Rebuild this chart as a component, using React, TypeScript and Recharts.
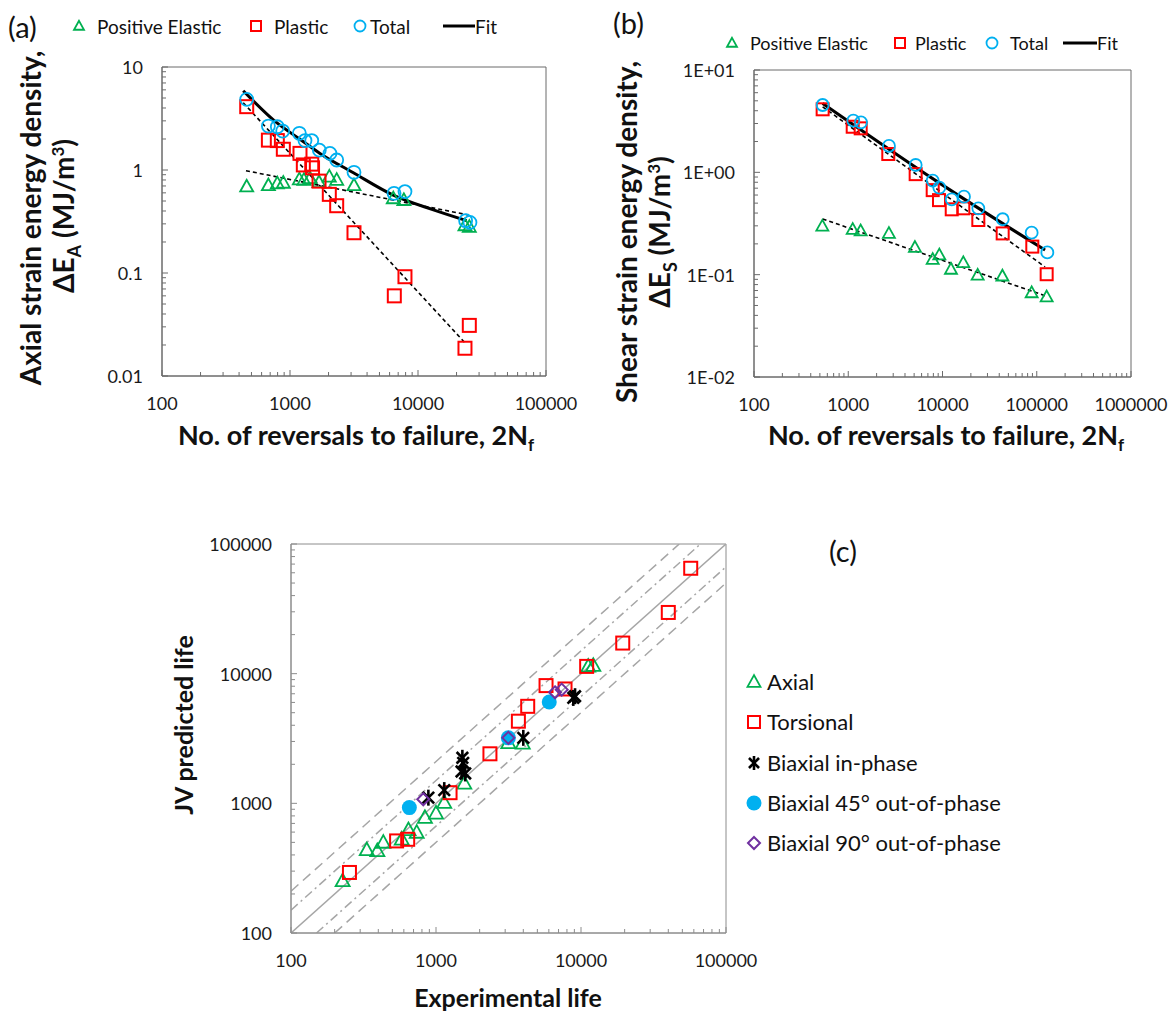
import React from 'react';
import { ComposedChart, Scatter, Line, XAxis, YAxis, ReferenceArea } from 'recharts';

const FONT = 'Lato, "Open Sans", sans-serif';
const GREEN = '#00B050';
const RED = '#FF0000';
const BLUE = '#00B0F0';
const PURPLE = '#7030A0';

// (a) axial: reversals to failure vs strain energy density (MJ/m3)
const aElastic = [[459, 0.69], [678, 0.71], [796, 0.74], [887, 0.75], [1183, 0.81], [1285, 0.8], [1433, 0.83], [1686, 0.76], [2028, 0.86], [2316, 0.8], [3162, 0.71], [6410, 0.53], [7760, 0.51], [23280, 0.29], [25170, 0.28]];
const aPlastic = [[459, 4.12], [678, 1.95], [796, 1.93], [887, 1.59], [1197, 1.45], [1271, 1.12], [1479, 1.14], [1500, 1.05], [1686, 0.78], [2028, 0.58], [2316, 0.45], [3162, 0.246], [6530, 0.06], [7910, 0.092], [23280, 0.0186], [25170, 0.031]];
const aTotal = [[459, 4.85], [678, 2.67], [796, 2.63], [877, 2.39], [1183, 2.27], [1309, 1.93], [1479, 1.93], [1694, 1.56], [2051, 1.45], [2316, 1.25], [3162, 0.95], [6500, 0.594], [7910, 0.617], [23550, 0.322], [25460, 0.31]];
const aFit = [[431, 5.89], [787, 2.88], [1197, 1.99], [1714, 1.45], [3127, 0.94], [6410, 0.57], [13200, 0.41], [24000, 0.322]];
const aElasticFit = [[453, 0.985], [24700, 0.366]];
const aPlasticFit = [[431, 4.5], [23280, 0.021]];

// (b) torsional
const bElastic = [[531, 0.298], [1115, 0.277], [1355, 0.268], [2700, 0.253], [5100, 0.185], [7870, 0.141], [9250, 0.156], [12300, 0.113], [16620, 0.131], [23600, 0.099], [43200, 0.097], [88300, 0.0666], [127400, 0.0608]];
const bPlastic = [[535, 4.13], [1115, 2.79], [1355, 2.69], [2660, 1.51], [5190, 0.96], [7870, 0.67], [9180, 0.535], [12530, 0.435], [16620, 0.445], [23990, 0.342], [43500, 0.253], [89700, 0.188], [127400, 0.101]];
const bTotal = [[535, 4.55], [1132, 3.2], [1365, 3.08], [2704, 1.81], [5190, 1.18], [7870, 0.83], [9250, 0.71], [12530, 0.545], [16900, 0.578], [23990, 0.445], [43500, 0.348], [88300, 0.257], [129500, 0.165]];
const bFit = [[535, 4.72], [9400, 0.78], [122500, 0.174]];
const bElasticFit = [[535, 0.35], [125300, 0.0618]];
const bPlasticFit = [[535, 4.37], [122500, 0.119]];

// (c) experimental vs predicted life
const cAxial = [[227, 252], [333, 437], [394, 430], [433, 499], [580, 528], [646, 624], [736, 596], [839, 776], [1000, 838], [1140, 1012], [1567, 1425], [3155, 2930], [3965, 2900], [11220, 11380], [12160, 11540]];
const cTorsional = [[253, 293], [535, 513], [638, 528], [1250, 1208], [2355, 2410], [3700, 4300], [4290, 5600], [5740, 8090], [7760, 7620], [10940, 11380], [19400, 17220], [40000, 29650], [57100, 65000]];
const cInPhase = [[886, 1106], [1140, 1265], [1520, 2245], [1540, 2050], [1500, 1760], [1590, 1700], [4000, 3200], [8850, 6500], [9100, 6700]];
const cOop45 = [[655, 927], [3155, 3200], [6040, 6050]];
const cOop90 = [[817, 1074], [3155, 3200], [6620, 7180], [7360, 7530]];
const cOneToOne = [[100, 100], [100000, 100000]];
const cUpper2 = [[100, 210], [47600, 100000]];
const cLower2 = [[200, 100], [100000, 50000]];
const cUpper15 = [[100, 150], [66667, 100000]];
const cLower15 = [[150, 100], [100000, 66667]];

const aXTicks = [100, 1000, 10000, 100000];
const aXTickLabels = ['100', '1000', '10000', '100000'];
const aYTicks = [0.01, 0.1, 1, 10];
const aYTickLabels = ['0.01', '0.1', '1', '10'];
const bXTicks = [100, 1000, 10000, 100000, 1000000];
const bXTickLabels = ['100', '1000', '10000', '100000', '1000000'];
const bYTicks = [0.01, 0.1, 1, 10];
const bYTickLabels = ['1E-02', '1E-01', '1E+00', '1E+01'];
const cTicks = [100, 1000, 10000, 100000];
const cTickLabels = ['100', '1000', '10000', '100000'];

const toPts = (arr: number[][]) => arr.map(([x, y]) => ({ x, y }));

const withMinor = (majors: number[]) => {
  const out: number[] = [];
  for (let i = 0; i < majors.length - 1; i++) {
    for (let k = 1; k < 10; k++) out.push(majors[i] * k);
  }
  out.push(majors[majors.length - 1]);
  return out;
};

const labelFor = (v: number, majors: number[], labels: string[]) => {
  const i = majors.findIndex((m) => Math.abs(Math.log10(m) - Math.log10(v)) < 1e-6);
  return i >= 0 ? labels[i] : null;
};

function drawMarker(kind: string, cx: number, cy: number, s: number) {
  const h = s / 2;
  switch (kind) {
    case 'tri':
      return <polygon points={`${cx},${cy - h * 1.05} ${cx - h},${cy + h * 0.75} ${cx + h},${cy + h * 0.75}`} fill="none" stroke={GREEN} strokeWidth={1.8} />;
    case 'sq':
      return <rect x={cx - h} y={cy - h} width={s} height={s} fill="none" stroke={RED} strokeWidth={2} />;
    case 'circ':
      return <circle cx={cx} cy={cy} r={h} fill="none" stroke={BLUE} strokeWidth={1.8} />;
    case 'dot':
      return <circle cx={cx} cy={cy} r={h} fill={BLUE} />;
    case 'dia':
      return <polygon points={`${cx},${cy - h} ${cx + h},${cy} ${cx},${cy + h} ${cx - h},${cy}`} fill="none" stroke={PURPLE} strokeWidth={2} />;
    case 'star': {
      const d = h * 0.72;
      return (
        <g stroke="#000" strokeWidth={2.6}>
          <line x1={cx} y1={cy - h} x2={cx} y2={cy + h} />
          <line x1={cx - d} y1={cy - d} x2={cx + d} y2={cy + d} />
          <line x1={cx - d} y1={cy + d} x2={cx + d} y2={cy - d} />
        </g>
      );
    }
    default:
      return null;
  }
}

const shape = (kind: string, s: number) => (p: any) => drawMarker(kind, p.cx, p.cy, s);

interface PanelProps {
  left: number;
  top: number;
  w: number;
  h: number;
  xTicks: number[];
  xLabels: string[];
  yTicks: number[];
  yLabels: string[];
  axisColor: string;
  children: React.ReactNode;
}

function LogPanel({ left, top, w, h, xTicks, xLabels, yTicks, yLabels, axisColor, children }: PanelProps) {
  const ml = 90, mt = 10, mr = 60, mb = 50;
  const axisY = mt + h;
  const axisX = ml;
  const xDom = [xTicks[0], xTicks[xTicks.length - 1]];
  const yDom = [yTicks[0], yTicks[yTicks.length - 1]];

  const xTick = (p: any) => {
    const v = p.payload.value;
    const lab = labelFor(v, xTicks, xLabels);
    return (
      <g>
        <line x1={p.x} x2={p.x} y1={axisY} y2={axisY - (lab ? 6 : 4)} stroke={axisColor} strokeWidth={1} />
        {lab && (
          <text x={p.x} y={axisY + 27} textAnchor="middle" dominantBaseline="central" fontSize={18} fontFamily={FONT} fill="#1a1a1a">
            {lab}
          </text>
        )}
      </g>
    );
  };

  const yTick = (p: any) => {
    const v = p.payload.value;
    const lab = labelFor(v, yTicks, yLabels);
    return (
      <g>
        <line x1={axisX} x2={axisX + (lab ? 6 : 4)} y1={p.y} y2={p.y} stroke={axisColor} strokeWidth={1} />
        {lab && (
          <text x={axisX - 19} y={p.y} textAnchor="end" dominantBaseline="central" fontSize={18} fontFamily={FONT} fill="#1a1a1a">
            {lab}
          </text>
        )}
      </g>
    );
  };

  return (
    <div style={{ position: 'absolute', left: left - ml, top: top - mt }}>
      <ComposedChart width={w + ml + mr} height={h + mt + mb} margin={{ top: mt, right: mr, left: 0, bottom: 0 }}>
        <XAxis
          type="number"
          dataKey="x"
          scale="log"
          domain={xDom}
          allowDataOverflow
          ticks={withMinor(xTicks)}
          interval={0}
          height={mb}
          tickLine={false}
          tickSize={0}
          axisLine={{ stroke: axisColor }}
          tick={xTick}
        />
        <YAxis
          type="number"
          dataKey="y"
          scale="log"
          domain={yDom}
          allowDataOverflow
          ticks={withMinor(yTicks)}
          interval={0}
          width={ml}
          tickLine={false}
          tickSize={0}
          axisLine={{ stroke: axisColor }}
          tick={yTick}
        />
        <ReferenceArea x1={xDom[0]} x2={xDom[1]} y1={yDom[0]} y2={yDom[1]} fill="none" fillOpacity={0} stroke={axisColor} strokeWidth={1} />
        {children}
      </ComposedChart>
    </div>
  );
}

const fitLine = (data: number[][], dashed: boolean, key: string) => (
  <Line
    key={key}
    data={toPts(data)}
    dataKey="y"
    type="monotone"
    stroke="#000"
    strokeWidth={dashed ? 1.6 : 3}
    strokeDasharray={dashed ? '4 3' : undefined}
    dot={false}
    activeDot={false}
    isAnimationActive={false}
  />
);

const refLine = (data: number[][], dash: string | undefined, key: string) => (
  <Line
    key={key}
    data={toPts(data)}
    dataKey="y"
    type="linear"
    stroke="#a6a6a6"
    strokeWidth={1.5}
    strokeDasharray={dash}
    dot={false}
    activeDot={false}
    isAnimationActive={false}
  />
);

const abs = (left: number, top: number, extra: React.CSSProperties = {}): React.CSSProperties => ({
  position: 'absolute',
  left,
  top,
  whiteSpace: 'nowrap',
  ...extra,
});

function LegendMark({ kind, left, top, s }: { kind: string; left: number; top: number; s: number }) {
  return (
    <svg style={abs(left - 10, top - 10)} width={20} height={20}>
      {drawMarker(kind, 10, 10, s)}
    </svg>
  );
}

function Text({ x, y, size, bold, children, rotate, anchor = 'left' }: any) {
  const tx = anchor === 'center' ? '-50%' : '0';
  return (
    <div
      style={abs(x, y, {
        fontSize: size,
        fontWeight: bold ? 700 : 400,
        color: '#111',
        lineHeight: 1,
        transform: `translate(${tx}, -50%)${rotate ? ' rotate(-90deg)' : ''}`,
        transformOrigin: anchor === 'center' ? 'center' : 'left center',
      })}
    >
      {children}
    </div>
  );
}

export default function App() {
  return (
    <div style={{ position: 'absolute', left: 0, top: 0, width: 1174, height: 1015, background: '#fff', fontFamily: FONT, overflow: 'hidden' }}>
      {/* panel (a) */}
      <LogPanel left={162} top={67} w={384} h={309} xTicks={aXTicks} xLabels={aXTickLabels} yTicks={aYTicks} yLabels={aYTickLabels} axisColor="#6b6b6b">
        <Scatter data={toPts(aElastic)} shape={shape('tri', 13)} isAnimationActive={false} />
        <Scatter data={toPts(aPlastic)} shape={shape('sq', 13)} isAnimationActive={false} />
        <Scatter data={toPts(aTotal)} shape={shape('circ', 13)} isAnimationActive={false} />
        {fitLine(aElasticFit, true, 'ae')}
        {fitLine(aPlasticFit, true, 'ap')}
        {fitLine(aFit, false, 'af')}
      </LogPanel>

      {/* panel (b) */}
      <LogPanel left={754} top={70} w={377} h={307} xTicks={bXTicks} xLabels={bXTickLabels} yTicks={bYTicks} yLabels={bYTickLabels} axisColor="#6b6b6b">
        <Scatter data={toPts(bElastic)} shape={shape('tri', 12)} isAnimationActive={false} />
        <Scatter data={toPts(bPlastic)} shape={shape('sq', 12)} isAnimationActive={false} />
        <Scatter data={toPts(bTotal)} shape={shape('circ', 12)} isAnimationActive={false} />
        {fitLine(bElasticFit, true, 'be')}
        {fitLine(bPlasticFit, true, 'bp')}
        {fitLine(bFit, false, 'bf')}
      </LogPanel>

      {/* panel (c) */}
      <LogPanel left={291} top={544} w={435} h={389} xTicks={cTicks} xLabels={cTickLabels} yTicks={cTicks} yLabels={cTickLabels} axisColor="#8c8c8c">
        {refLine(cUpper2, '10 6', 'u2')}
        {refLine(cLower2, '10 6', 'l2')}
        {refLine(cUpper15, '9 4 2 4', 'u15')}
        {refLine(cLower15, '9 4 2 4', 'l15')}
        {refLine(cOneToOne, undefined, 'one')}
        <Scatter data={toPts(cAxial)} shape={shape('tri', 14)} isAnimationActive={false} />
        <Scatter data={toPts(cTorsional)} shape={shape('sq', 13)} isAnimationActive={false} />
        <Scatter data={toPts(cInPhase)} shape={shape('star', 16)} isAnimationActive={false} />
        <Scatter data={toPts(cOop45)} shape={shape('dot', 15)} isAnimationActive={false} />
        <Scatter data={toPts(cOop90)} shape={shape('dia', 12)} isAnimationActive={false} />
      </LogPanel>

      {/* panel labels */}
      <Text x={8} y={26} size={29}>(a)</Text>
      <Text x={613} y={22} size={29}>(b)</Text>
      <Text x={829} y={550} size={29}>(c)</Text>

      {/* legend (a) */}
      <LegendMark kind="tri" left={79} top={26} s={10} />
      <Text x={97} y={26} size={19}>Positive Elastic</Text>
      <LegendMark kind="sq" left={256} top={26} s={10} />
      <Text x={274} y={26} size={19}>Plastic</Text>
      <LegendMark kind="circ" left={360} top={26} s={11} />
      <Text x={370} y={26} size={19}>Total</Text>
      <svg style={abs(443, 20)} width={32} height={12}><line x1={0} x2={32} y1={6} y2={6} stroke="#000" strokeWidth={3} /></svg>
      <Text x={475} y={26} size={19}>Fit</Text>

      {/* legend (b) */}
      <LegendMark kind="tri" left={732} top={43} s={10} />
      <Text x={750} y={43} size={18}>Positive Elastic</Text>
      <LegendMark kind="sq" left={900} top={43} s={10} />
      <Text x={915} y={43} size={18}>Plastic</Text>
      <LegendMark kind="circ" left={992} top={43} s={11} />
      <Text x={1010} y={43} size={18}>Total</Text>
      <svg style={abs(1063, 37)} width={34} height={12}><line x1={0} x2={34} y1={6} y2={6} stroke="#000" strokeWidth={3} /></svg>
      <Text x={1097} y={43} size={18}>Fit</Text>

      {/* legend (c) */}
      <LegendMark kind="tri" left={754} top={682} s={13} />
      <Text x={767} y={682} size={22}>Axial</Text>
      <LegendMark kind="sq" left={754} top={722} s={12} />
      <Text x={767} y={722} size={22}>Torsional</Text>
      <LegendMark kind="star" left={754} top={763} s={14} />
      <Text x={767} y={763} size={22}>Biaxial in-phase</Text>
      <LegendMark kind="dot" left={754} top={803} s={15} />
      <Text x={767} y={803} size={22}>Biaxial 45° out-of-phase</Text>
      <LegendMark kind="dia" left={754} top={843} s={12} />
      <Text x={767} y={843} size={22}>Biaxial 90° out-of-phase</Text>

      {/* axis titles */}
      <Text x={30} y={218} size={28} bold rotate anchor="center">Axial strain energy density,</Text>
      <Text x={66} y={216} size={28} bold rotate anchor="center">ΔE<sub style={{ fontSize: 18 }}>A</sub> (MJ/m<sup style={{ fontSize: 17 }}>3</sup>)</Text>
      <Text x={356} y={437} size={27} bold anchor="center">No. of reversals to failure, 2N<sub style={{ fontSize: 17 }}>f</sub></Text>

      <Text x={626} y={232} size={28} bold rotate anchor="center">Shear strain energy density,</Text>
      <Text x={662} y={232} size={28} bold rotate anchor="center">ΔE<sub style={{ fontSize: 18 }}>S</sub> (MJ/m<sup style={{ fontSize: 17 }}>3</sup>)</Text>
      <Text x={946} y={437} size={27} bold anchor="center">No. of reversals to failure, 2N<sub style={{ fontSize: 17 }}>f</sub></Text>

      <Text x={183} y={725} size={25} bold rotate anchor="center">JV predicted life</Text>
      <Text x={508} y={997} size={25} bold anchor="center">Experimental life</Text>
    </div>
  );
}
